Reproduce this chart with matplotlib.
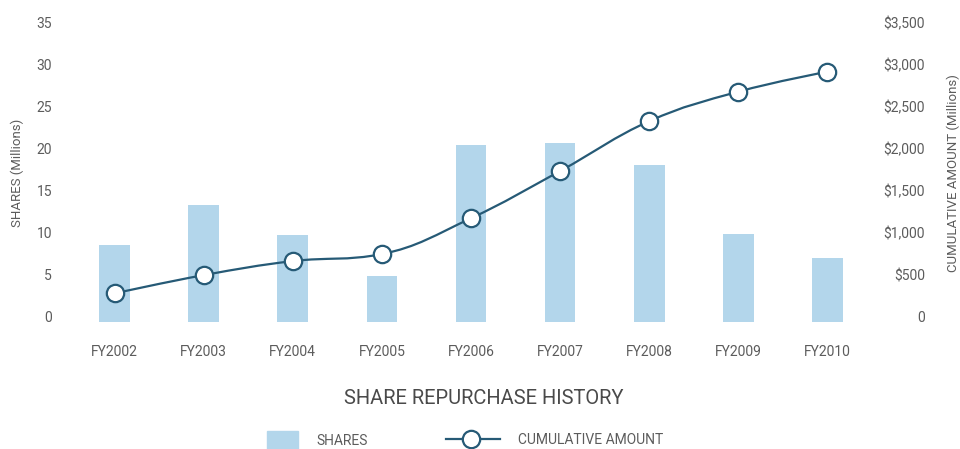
import matplotlib.pyplot as plt
import matplotlib.transforms as mtransforms
from matplotlib.path import Path
from matplotlib.patches import PathPatch, Rectangle
from matplotlib.lines import Line2D
import numpy as np

plt.rcParams['font.family'] = ['Roboto', 'DejaVu Sans']

years = ["FY2002", "FY2003", "FY2004", "FY2005", "FY2006",
         "FY2007", "FY2008", "FY2009", "FY2010"]
shares = [9.1, 13.9, 10.3, 5.4, 21.0, 21.25, 18.6, 10.4, 7.55]
cumulative = [336, 553, 720, 804, 1230, 1792, 2385, 2736, 2974]
left_ticks = [0, 5, 10, 15, 20, 25, 30, 35]
right_ticks = [0, 500, 1000, 1500, 2000, 2500, 3000, 3500]

bar_color = '#b3d6eb'
line_color = '#265a76'
text_color = '#5c5c5c'


def spline_path(xs, ys, smoothing=1.5):
    """Smooth curve through the points (cubic bezier, no overshoot)."""
    n = len(xs)
    denom = smoothing + 1
    left = [(xs[i], ys[i]) for i in range(n)]
    right = [(xs[i], ys[i]) for i in range(n)]
    for i in range(1, n - 1):
        px, py = xs[i], ys[i]
        lx, ly = xs[i - 1], ys[i - 1]
        nx, ny = xs[i + 1], ys[i + 1]
        lcx = (smoothing * px + lx) / denom
        lcy = (smoothing * py + ly) / denom
        rcx = (smoothing * px + nx) / denom
        rcy = (smoothing * py + ny) / denom
        corr = (rcy - lcy) * (rcx - px) / (rcx - lcx) + py - rcy
        lcy += corr
        rcy += corr
        if lcy > ly and lcy > py:
            lcy = max(ly, py); rcy = 2 * py - lcy
        elif lcy < ly and lcy < py:
            lcy = min(ly, py); rcy = 2 * py - lcy
        if rcy > ny and rcy > py:
            rcy = max(ny, py); lcy = 2 * py - rcy
        elif rcy < ny and rcy < py:
            rcy = min(ny, py); lcy = 2 * py - rcy
        left[i] = (lcx, lcy)
        right[i] = (rcx, rcy)
    verts = [(xs[0], ys[0])]
    codes = [Path.MOVETO]
    for i in range(1, n):
        verts += [right[i - 1], left[i], (xs[i], ys[i])]
        codes += [Path.CURVE4] * 3
    return Path(verts, codes)


fig = plt.figure(figsize=(9.6, 4.49), dpi=100)
W, H = 960, 449
ax = fig.add_axes([70 / W, (H - 321.6) / H, (872 - 70) / W, (321.6 - 27.5) / H])
ax2 = ax.twinx()

x = np.arange(len(years))
ax.bar(x, shares, width=0.345, color=bar_color, zorder=1)
ax.set_xlim(-0.5, len(years) - 0.5)
ax.set_ylim(0, 35)
ax2.set_ylim(0, 3500)

ax2.add_patch(PathPatch(spline_path(x, cumulative), fill=False,
                        edgecolor=line_color, lw=1.6, zorder=3))
ax2.plot(x, cumulative, ls='none', marker='o', ms=12.5, mfc='white',
         mec=line_color, mew=1.6, zorder=4, clip_on=False)

for a in (ax, ax2):
    for s in a.spines.values():
        s.set_visible(False)
    a.tick_params(length=0, colors=text_color, labelsize=10)

ax.set_xticks(x)
ax.set_xticklabels(years)
ax.tick_params(axis='x', pad=16.5)
ax.set_yticks(left_ticks)
ax.set_yticklabels([str(v) for v in left_ticks])
ax.tick_params(axis='y', pad=13)
ax2.set_yticks(right_ticks)
ax2.set_yticklabels(['0' if v == 0 else '${:,}'.format(v) for v in right_ticks])
ax2.tick_params(axis='y', pad=38)
for lab in ax2.get_yticklabels():
    lab.set_horizontalalignment('right')

# labels sit a little above their gridline
shift = mtransforms.ScaledTranslation(0, 5 / 100, fig.dpi_scale_trans)
for lab in ax.get_yticklabels() + ax2.get_yticklabels():
    lab.set_transform(lab.get_transform() + shift)

fig.text(17 / W, 1 - 173 / H, 'SHARES (Millions)', rotation=90,
         ha='center', va='center', fontsize=9.5, color=text_color)
fig.text(953 / W, 1 - 173 / H, 'CUMULATIVE AMOUNT (Millions)', rotation=90,
         ha='center', va='center', fontsize=9.5, color=text_color)

fig.text(484 / W, 1 - 398 / H, 'SHARE REPURCHASE HISTORY', ha='center',
         va='center', fontsize=14.5, color='#4a4a4a')

# legend
fig.add_artist(Rectangle((267 / W, 0), 31 / W, 18 / H, color=bar_color,
                         transform=fig.transFigure))
fig.text(316 / W, 1 - 441 / H, 'SHARES', ha='left', va='center',
         fontsize=10, color=text_color)
fig.add_artist(Line2D([446 / W, 500 / W], [1 - 439 / H, 1 - 439 / H],
                      color=line_color, lw=1.6, transform=fig.transFigure))
fig.add_artist(Line2D([471 / W], [1 - 439 / H], marker='o', ms=12.5,
                      mfc='white', mec=line_color, mew=1.6,
                      transform=fig.transFigure))
fig.text(518 / W, 1 - 440 / H, 'CUMULATIVE AMOUNT', ha='left', va='center',
         fontsize=10, color=text_color)

fig.savefig('out.png', dpi=100)
